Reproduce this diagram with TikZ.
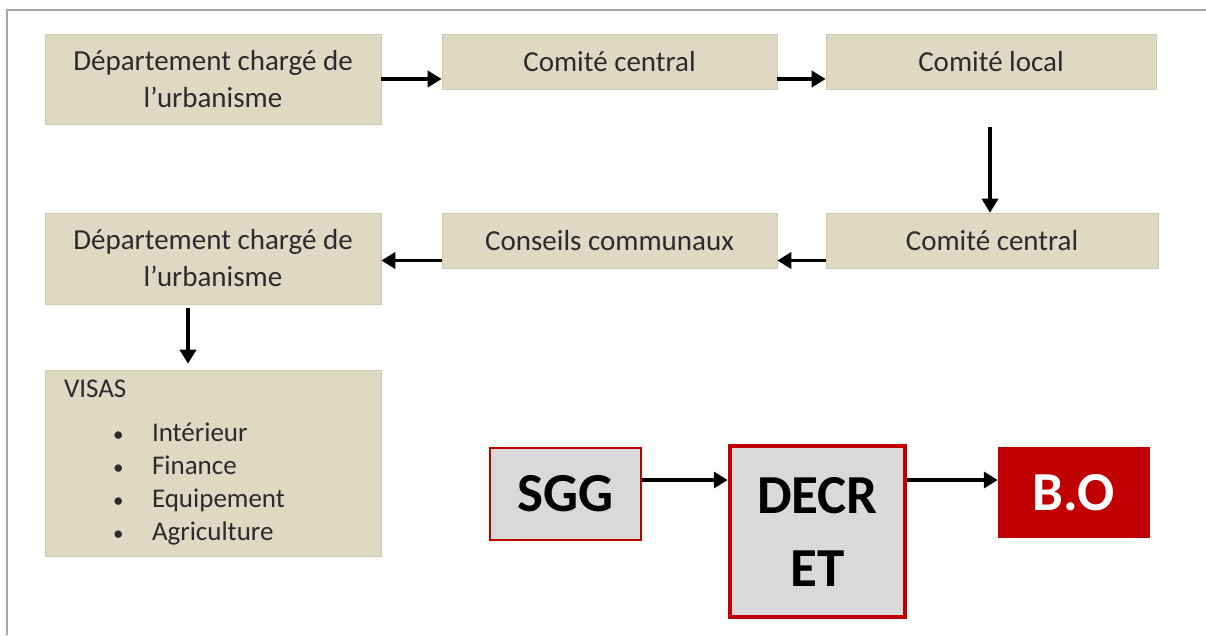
\documentclass[tikz,border=0pt]{standalone}
\usepackage{fontspec}
\setmainfont{Carlito}
\usetikzlibrary{arrows.meta}
\definecolor{beige}{HTML}{DDD9C3}
\definecolor{beigeedge}{HTML}{CFCAB2}
\definecolor{lgray}{HTML}{D9D9D9}
\definecolor{dred}{HTML}{C00000}
\definecolor{framecol}{HTML}{A6A6A6}
\definecolor{txt}{HTML}{2B2B2B}
\tikzset{
  bbox/.style={fill=beige, draw=beigeedge, line width=0.6pt, inner sep=0pt, text=txt,
    font=\fontsize{29}{37}\selectfont, align=center},
  gbox/.style={fill=lgray, draw=dred, inner sep=0pt, text=black,
    font=\fontsize{55}{73}\selectfont\bfseries, align=center},
  rbox/.style={fill=dred, draw=none, inner sep=0pt, text=white,
    font=\fontsize{55}{73}\selectfont\bfseries, align=center},
  flowarrow/.style={draw=black, line width=3.6pt, -{Triangle[length=14pt,width=16pt]}},
}
\newcommand{\visitem}[1]{\makebox[88pt][l]{\hspace{49pt}{\fontsize{21}{21}\selectfont\textbullet}}#1}
\begin{document}
\begin{tikzpicture}[x=1pt,y=-1pt]
\useasboundingbox (0,0) rectangle (1206,635);
\draw[framecol, line width=2pt] (7,635) -- (7,10) -- (1206,10);

\node[bbox, minimum width=336pt, minimum height=90pt] (A1) at (213,79) {Département chargé de\\l’urbanisme};
\node[bbox, minimum width=335pt, minimum height=55pt] (B1) at (609.5,61.5) {Comité central};
\node[bbox, minimum width=330pt, minimum height=55pt] (C1) at (991,61.5) {Comité local};

\node[bbox, minimum width=336pt, minimum height=91pt] (A2) at (213,258.5) {Département chargé de\\l’urbanisme};
\node[bbox, minimum width=335pt, minimum height=55pt] (B2) at (609.5,240.5) {Conseils communaux};
\node[bbox, minimum width=332pt, minimum height=55pt] (C2) at (992,240.5) {Comité central};

\node[bbox, minimum width=336pt, minimum height=186pt, text width=298pt, inner xsep=19pt, align=left,
      font=\fontsize{27}{33}\selectfont] (V) at (213,463)
  {VISAS\\[11pt]
   \visitem{Intérieur}\\
   \visitem{Finance}\\
   \visitem{Equipement}\\
   \visitem{Agriculture}};

\node[gbox, line width=2.5pt, minimum width=151pt, minimum height=92pt] (S) at (565.5,494) {SGG};
\node[gbox, line width=4.5pt, minimum width=175pt, minimum height=171pt] (D) at (817.5,531.5) {DECR\\ET};
\node[rbox, minimum width=152pt, minimum height=91pt] (B) at (1074,492.5) {B.O};

\path[flowarrow] (A1.east) -- (A1.east -| B1.west);
\path[flowarrow] (B1.east |- A1.east) -- (C1.west |- A1.east);
\path[flowarrow, shorten <=38pt] (C1.south -| 990,0) -- (C2.north -| 990,0);
\path[flowarrow] ([yshift=-20pt]C2.west) -- ([yshift=-20pt]B2.east);
\path[flowarrow] ([yshift=-20pt]B2.west) -- ([yshift=-20pt]B2.west -| A2.east);
\path[flowarrow, shorten <=4pt, shorten >=6pt] ([xshift=-25pt]A2.south) -- ([xshift=-25pt]V.north);
\path[flowarrow] ([yshift=14pt]S.east) -- ([yshift=14pt]S.east -| D.west);
\path[flowarrow] ([yshift=14pt]S.east -| D.east) -- ([yshift=14pt]S.east -| B.west);
\end{tikzpicture}
\end{document}
